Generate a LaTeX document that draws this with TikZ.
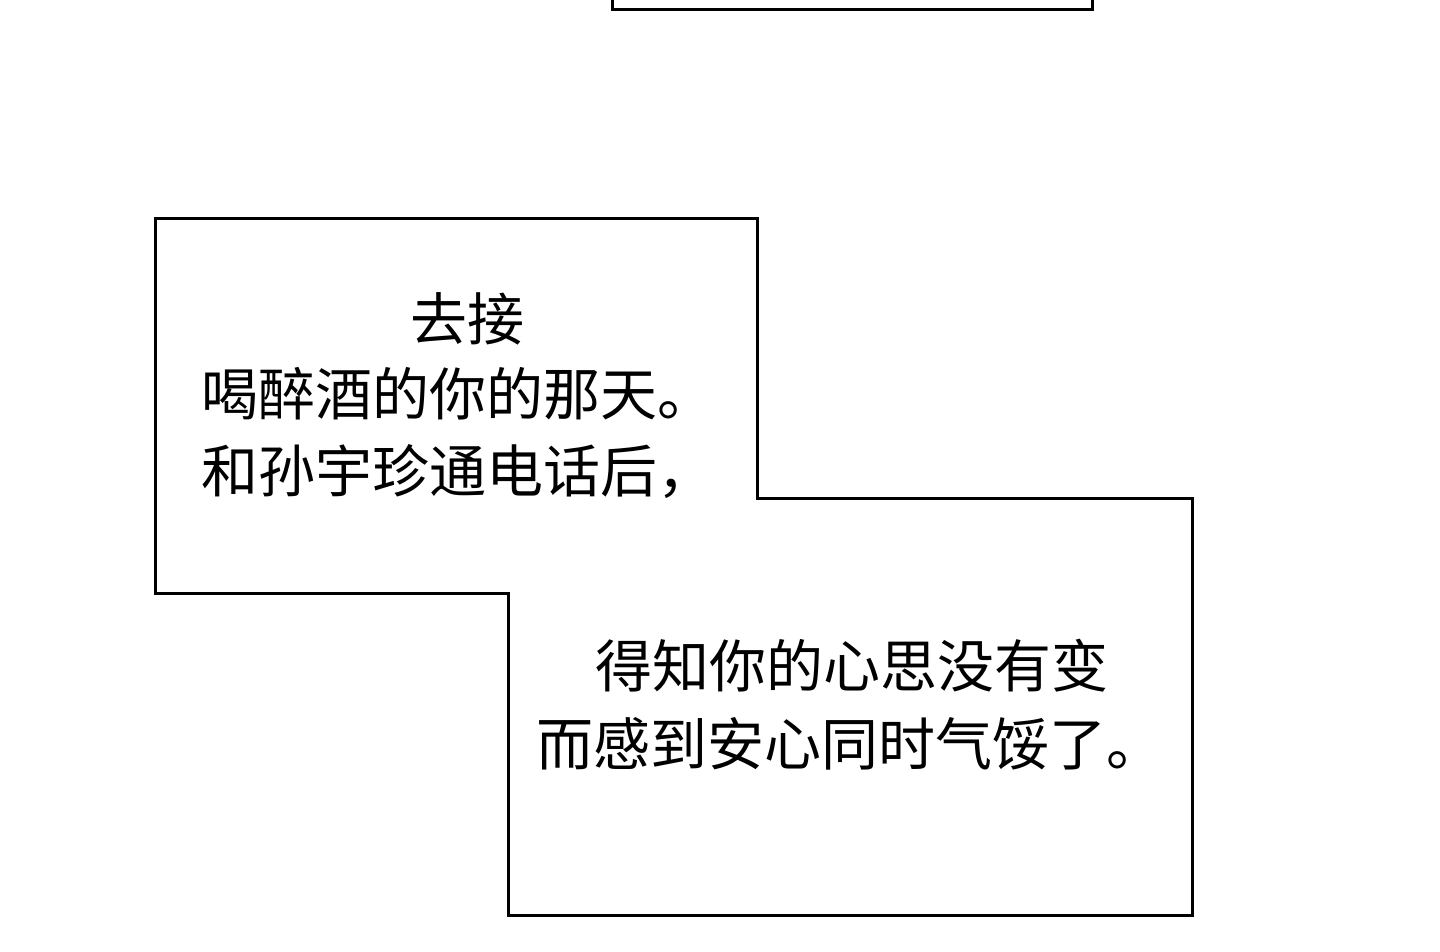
\documentclass[tikz,border=0pt]{standalone}
\usepackage{fontspec}
\newfontfamily\cjk{Noto Sans CJK SC}
\begin{document}
\begin{tikzpicture}[x=1pt,y=-1pt,
  panel/.style={draw=black,line width=3pt,line join=miter},
  txt/.style={anchor=base west,inner sep=0pt,font=\cjk\fontsize{57}{57}\selectfont}]
\useasboundingbox[fill=white] (0,0) rectangle (1440,952);
\draw[panel] (612,-5) -- (612,10) -- (1092,10) -- (1092,-5);
\draw[panel] (155,219) -- (757,219) -- (757,498) -- (1192,498) -- (1192,915) -- (508,915) -- (508,593) -- (155,593) -- cycle;
\node[txt] (l1) at (410,340) {去接};
\node[txt] (l2) at (201,415) {喝醉酒的你的那天。};
\node[txt] (l3) at (201,492) {和孙宇珍通电话后，};
\node[txt] (l4) at (595,687) {得知你的心思没有变};
\node[txt] (l5) at (536,765) {而感到安心同时气馁了。};
\end{tikzpicture}
\end{document}
